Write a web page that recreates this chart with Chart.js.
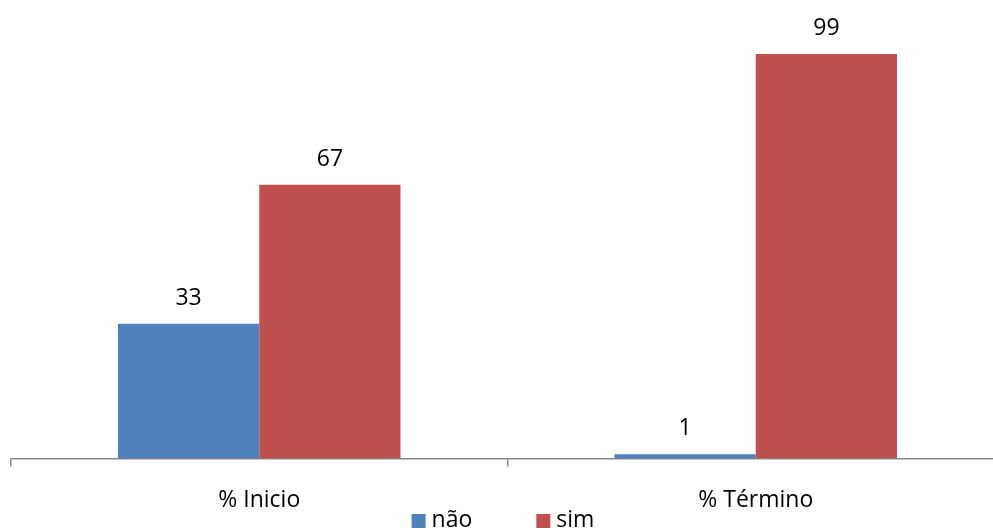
<!DOCTYPE html>
<html>
<head>
<meta charset="utf-8">
<script src="https://cdn.jsdelivr.net/npm/chart.js@4/dist/chart.umd.min.js"></script>
<style>
  html, body { margin: 0; padding: 0; overflow: hidden; background: #fff; }
  #wrap { width: 1012px; height: 532px; }
</style>
</head>
<body>
<div id="wrap"><canvas id="c"></canvas></div>
<script>
const categories = ['% Inicio', '% Término'];
const naoValues = [33, 1];
const simValues = [67, 99];
const seriesNames = ['não', 'sim'];

const FONT = '"Open Sans", sans-serif';
const FONT_SIZE = 23;

// Value labels above each bar
const valueLabels = {
  id: 'valueLabels',
  afterDatasetsDraw(chart) {
    const ctx = chart.ctx;
    ctx.save();
    ctx.font = FONT_SIZE + 'px ' + FONT;
    ctx.fillStyle = '#000';
    ctx.textAlign = 'center';
    ctx.textBaseline = 'alphabetic';
    chart.data.datasets.forEach((ds, i) => {
      chart.getDatasetMeta(i).data.forEach((bar, j) => {
        ctx.fillText(String(ds.data[j]), bar.x, bar.y - 19);
      });
    });
    ctx.restore();
  }
};

// Compact legend row under the axis labels: small square + series name
const bottomLegend = {
  id: 'bottomLegend',
  afterDraw(chart) {
    const ctx = chart.ctx;
    const box = 14, gapText = 6, gapItem = 64;
    const centerX = 503, centerY = 521;
    ctx.save();
    ctx.font = FONT_SIZE + 'px ' + FONT;
    const items = chart.data.datasets.map(ds => ({
      text: ds.label, color: ds.backgroundColor, w: ctx.measureText(ds.label).width
    }));
    let total = items.reduce((s, it) => s + box + gapText + it.w, 0) + gapItem * (items.length - 1);
    let x = centerX - total / 2;
    ctx.textBaseline = 'middle';
    ctx.textAlign = 'left';
    items.forEach(it => {
      ctx.fillStyle = it.color;
      ctx.fillRect(x, centerY - box / 2, box, box);
      ctx.fillStyle = '#000';
      ctx.fillText(it.text, x + box + gapText, centerY - 1);
      x += box + gapText + it.w + gapItem;
    });
    ctx.restore();
  }
};

new Chart(document.getElementById('c'), {
  type: 'bar',
  data: {
    labels: categories,
    datasets: [
      { label: seriesNames[0], data: naoValues, backgroundColor: '#4F81BD' },
      { label: seriesNames[1], data: simValues, backgroundColor: '#C0504D' }
    ]
  },
  options: {
    responsive: true,
    maintainAspectRatio: false,
    animation: false,
    devicePixelRatio: 1,
    layout: { padding: { top: 50, left: 11, right: 8, bottom: -2 } },
    categoryPercentage: 0.569,
    barPercentage: 1,
    scales: {
      y: { display: false, min: 0, max: 100 },
      x: {
        offset: true,
        grid: {
          offset: true,
          drawOnChartArea: false,
          drawTicks: true,
          tickLength: 8,
          lineWidth: 1.5,
          color: '#898989'
        },
        border: { display: true, color: '#898989', width: 1.5 },
        ticks: { color: '#000', font: { size: FONT_SIZE, family: FONT }, padding: 20 }
      }
    },
    plugins: {
      tooltip: { enabled: false },
      legend: { display: false }
    }
  },
  plugins: [valueLabels, bottomLegend]
});
</script>
</body>
</html>
